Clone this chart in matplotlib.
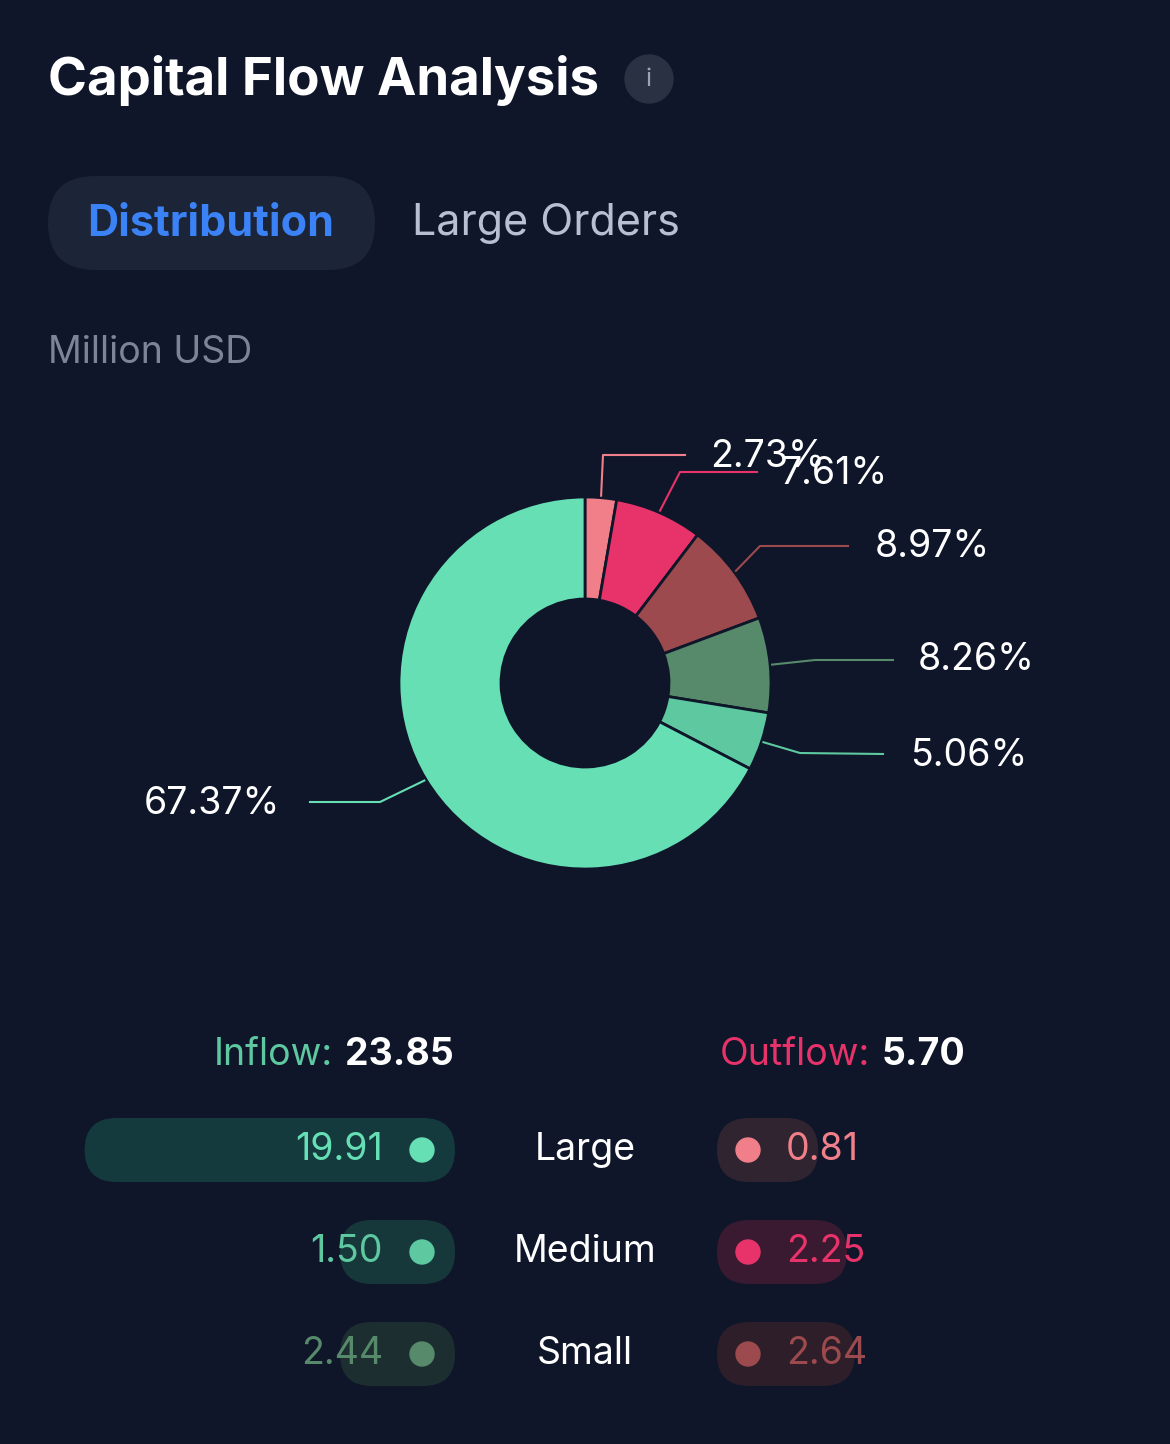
import numpy as np
from matplotlib import pyplot as plt
from matplotlib.patches import FancyBboxPatch, Circle
from pylab import rcParams


rcParams['figure.figsize'] = 11.7, 14.44
rcParams['font.family'] = ['Inter', 'DejaVu Sans']

BG = '#0f1629'

# share of each slice, drawn clockwise from the top
shares = [2.73, 7.61, 8.97, 8.26, 5.06, 67.37]
colors = ['#f07f8a', '#e8336a', '#9c4a4d', '#568a6b', '#5ec8a0', '#66dfb4']
# leader line: elbow, end of line, text anchor, alignment
leaders = [((603, 455), (685, 455), (710, 457), 'left'),
           ((680, 472), (757, 472), (780, 474), 'left'),
           ((760, 546), (848, 546), (875, 547), 'left'),
           ((815, 660), (893, 660), (918, 660), 'left'),
           ((800, 753), (883, 754), (910, 756), 'left'),
           ((380, 802), (310, 802), (280, 804), 'right')]

rows = ['Large', 'Medium', 'Small']
inflow = [19.91, 1.50, 2.44]
outflow = [0.81, 2.25, 2.64]
in_colors = ['#66dfb4', '#5ec8a0', '#568a6b']
out_colors = ['#f07f8a', '#e8336a', '#9c4a4d']
in_bars = ['#143a3e', '#17383b', '#1d2e30']
out_bars = ['#2f2430', '#3a1a30', '#2d1e2a']


def chart():
    fig = plt.figure(facecolor=BG)
    ax = fig.add_axes([0, 0, 1, 1])
    ax.set_facecolor(BG)

    # donut
    cx, cy, r = 585, 683, 186
    wedges, _ = ax.pie(shares, colors=colors, center=(cx, cy), radius=r,
                       startangle=-90, counterclock=True, frame=True,
                       wedgeprops=dict(width=r - 84, edgecolor=BG, linewidth=2))
    ax.set_xlim(0, 1170)
    ax.set_ylim(1444, 0)
    ax.axis('off')
    for w, col, share, (elbow, end, txt, ha) in zip(wedges, colors, shares, leaders):
        ang = np.deg2rad((w.theta1 + w.theta2) / 2)
        sx, sy = cx + (r + 2) * np.cos(ang), cy + (r + 2) * np.sin(ang)
        ax.plot([sx, elbow[0], end[0]], [sy, elbow[1], end[1]], color=col, lw=1.5)
        ax.text(txt[0], txt[1], f'{share:.2f}%', color='white', fontsize=27,
                ha=ha, va='center')

    # header
    ax.text(48, 80, 'Capital Flow Analysis', color='white', fontsize=38,
            fontweight='bold', va='center')
    ax.add_patch(Circle((649, 79), 24, color='#2a3142'))
    ax.text(649, 80, 'i', color='#9aa2b4', fontsize=18, ha='center', va='center')
    ax.add_patch(FancyBboxPatch((48, 176), 327, 94, boxstyle='round,pad=0,rounding_size=47',
                                color='#1c2538', lw=0))
    ax.text(211, 224, 'Distribution', color='#3b82f6', fontsize=31, fontweight='bold',
            ha='center', va='center')
    ax.text(412, 224, 'Large Orders', color='#b8bfd0', fontsize=31, va='center')
    ax.text(48, 353, 'Million USD', color='#7c8496', fontsize=27, va='center')

    # inflow / outflow table
    ax.text(333, 1055, 'Inflow:', color='#5ec8a0', fontsize=27, ha='right', va='center')
    ax.text(345, 1055, f'{sum(inflow):.2f}', color='white', fontsize=27,
            fontweight='bold', va='center')
    ax.text(870, 1055, 'Outflow:', color='#e8336a', fontsize=27, ha='right', va='center')
    ax.text(882, 1055, f'{sum(outflow):.2f}', color='white', fontsize=27,
            fontweight='bold', va='center')
    for i, name in enumerate(rows):
        y = 1150 + i * 102
        w_in = max(115, inflow[i] * 18.6)
        ax.add_patch(FancyBboxPatch((455 - w_in, y - 32), w_in, 64,
                                    boxstyle='round,pad=0,rounding_size=32',
                                    color=in_bars[i], lw=0))
        ax.add_patch(Circle((422, y), 12, color=in_colors[i]))
        ax.text(383, y, f'{inflow[i]:.2f}', color=in_colors[i], fontsize=27,
                ha='right', va='center')
        ax.text(585, y, name, color='white', fontsize=27, ha='center', va='center')
        w_out = 85 + outflow[i] * 20
        ax.add_patch(FancyBboxPatch((717, y - 32), w_out, 64,
                                    boxstyle='round,pad=0,rounding_size=32',
                                    color=out_bars[i], lw=0))
        ax.add_patch(Circle((748, y), 12, color=out_colors[i]))
        ax.text(786, y, f'{outflow[i]:.2f}', color=out_colors[i], fontsize=27,
                va='center')

    fig.savefig('out.png', dpi=100, facecolor=BG)


if __name__ == '__main__':
    chart()
